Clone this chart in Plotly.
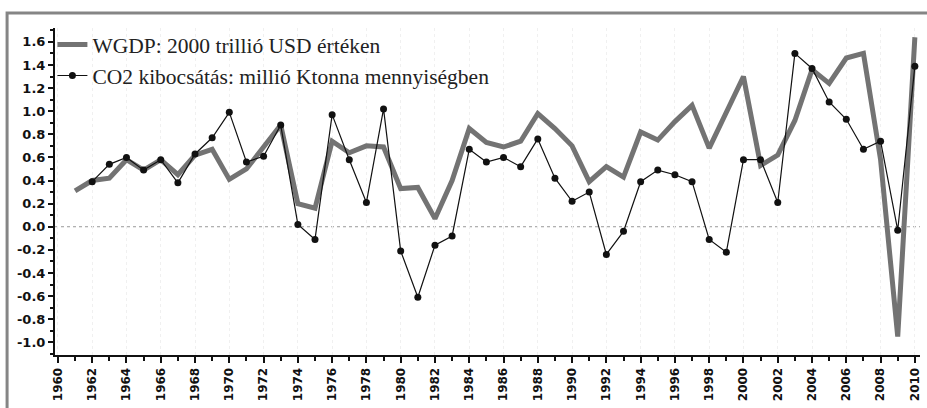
import plotly.graph_objects as go

years_gdp = list(range(1961, 2011))
wgdp = [0.31, 0.40, 0.42, 0.58, 0.49, 0.58, 0.45, 0.62, 0.67, 0.41,
        0.50, 0.69, 0.88, 0.20, 0.16, 0.74, 0.64, 0.70, 0.69, 0.33,
        0.34, 0.07, 0.40, 0.85, 0.73, 0.69, 0.74, 0.98, 0.85, 0.70,
        0.39, 0.52, 0.43, 0.82, 0.75, 0.91, 1.05, 0.68, 1.00, 1.30,
        0.53, 0.62, 0.92, 1.36, 1.24, 1.46, 1.50, 0.58, -0.95, 1.64]

years_co2 = list(range(1962, 2011))
co2 = [0.39, 0.54, 0.60, 0.49, 0.58, 0.38, 0.63, 0.77, 0.99, 0.56,
       0.61, 0.88, 0.02, -0.11, 0.97, 0.58, 0.21, 1.02, -0.21, -0.61,
       -0.16, -0.08, 0.67, 0.56, 0.60, 0.52, 0.76, 0.42, 0.22, 0.30,
       -0.24, -0.04, 0.39, 0.49, 0.45, 0.39, -0.11, -0.22, 0.58, 0.58,
       0.21, 1.50, 1.37, 1.08, 0.93, 0.67, 0.74, -0.03, 1.39]

name_gdp = "WGDP: 2000 trillió USD értéken"
name_co2 = "CO2 kibocsátás: millió Ktonna mennyiségben"

y_ticks = [1.6, 1.4, 1.2, 1.0, 0.8, 0.6, 0.4, 0.2, 0.0, -0.2, -0.4, -0.6, -0.8, -1.0]
x_ticks = list(range(1960, 2011, 2))

fig = go.Figure()
fig.add_trace(go.Scatter(x=years_gdp, y=wgdp, mode="lines", name=name_gdp,
                         line=dict(color="#737373", width=5)))
fig.add_trace(go.Scatter(x=years_co2, y=co2, mode="lines+markers", name=name_co2,
                         line=dict(color="#111111", width=1.2),
                         marker=dict(color="#111111", size=7, symbol="circle")))

# zero reference line (dotted)
fig.add_shape(type="line", xref="paper", yref="y", x0=0, x1=1, y0=0, y1=0,
              line=dict(color="#9a9a9a", width=1, dash="dot"), layer="below")
# outer gray frame
fig.add_shape(type="rect", xref="paper", yref="paper", x0=-0.0554, x1=1.02,
              y0=-0.3, y1=1.0459, line=dict(color="#858585", width=3))

fig.update_layout(
    width=927, height=408,
    margin=dict(l=55, r=5, t=28, b=53),
    paper_bgcolor="white", plot_bgcolor="white",
    showlegend=True,
    legend=dict(x=-0.003, y=1.012, xanchor="left", yanchor="top",
                bgcolor="rgba(0,0,0,0)", borderwidth=0,
                font=dict(family="Liberation Serif", size=21.5, color="#222"),
                tracegroupgap=0, itemwidth=30),
    xaxis=dict(range=[1959.83, 2010.3], tickmode="array", tickvals=x_ticks,
               ticktext=[str(v) for v in x_ticks], tickangle=-90,
               ticks="outside", ticklen=6, tickwidth=1.5, tickcolor="#111",
               showline=True, linecolor="#111", linewidth=2,
               showgrid=True, gridcolor="#f0f0f0", griddash="dot", gridwidth=1,
               zeroline=False,
               minor=dict(dtick=1, ticks="outside", ticklen=4, tickcolor="#111",
                          showgrid=False),
               tickfont=dict(family="DejaVu Sans", size=12, color="#111", weight="bold")),
    yaxis=dict(range=[-1.11, 1.72], tickmode="array", tickvals=y_ticks,
               ticktext=[f"{v:.1f}" for v in y_ticks],
               ticks="outside", ticklen=5, tickwidth=1.5, tickcolor="#111",
               showline=True, linecolor="#111", linewidth=2,
               showgrid=False, zeroline=False,
               minor=dict(dtick=0.1, tick0=0, ticks="outside", ticklen=3, tickcolor="#111"),
               tickfont=dict(family="DejaVu Sans", size=13, color="#111", weight="bold")),
)

fig.write_html("out.html", config={"displayModeBar": False},
               post_script="document.body.style.margin='0';document.body.style.overflow='hidden';")
